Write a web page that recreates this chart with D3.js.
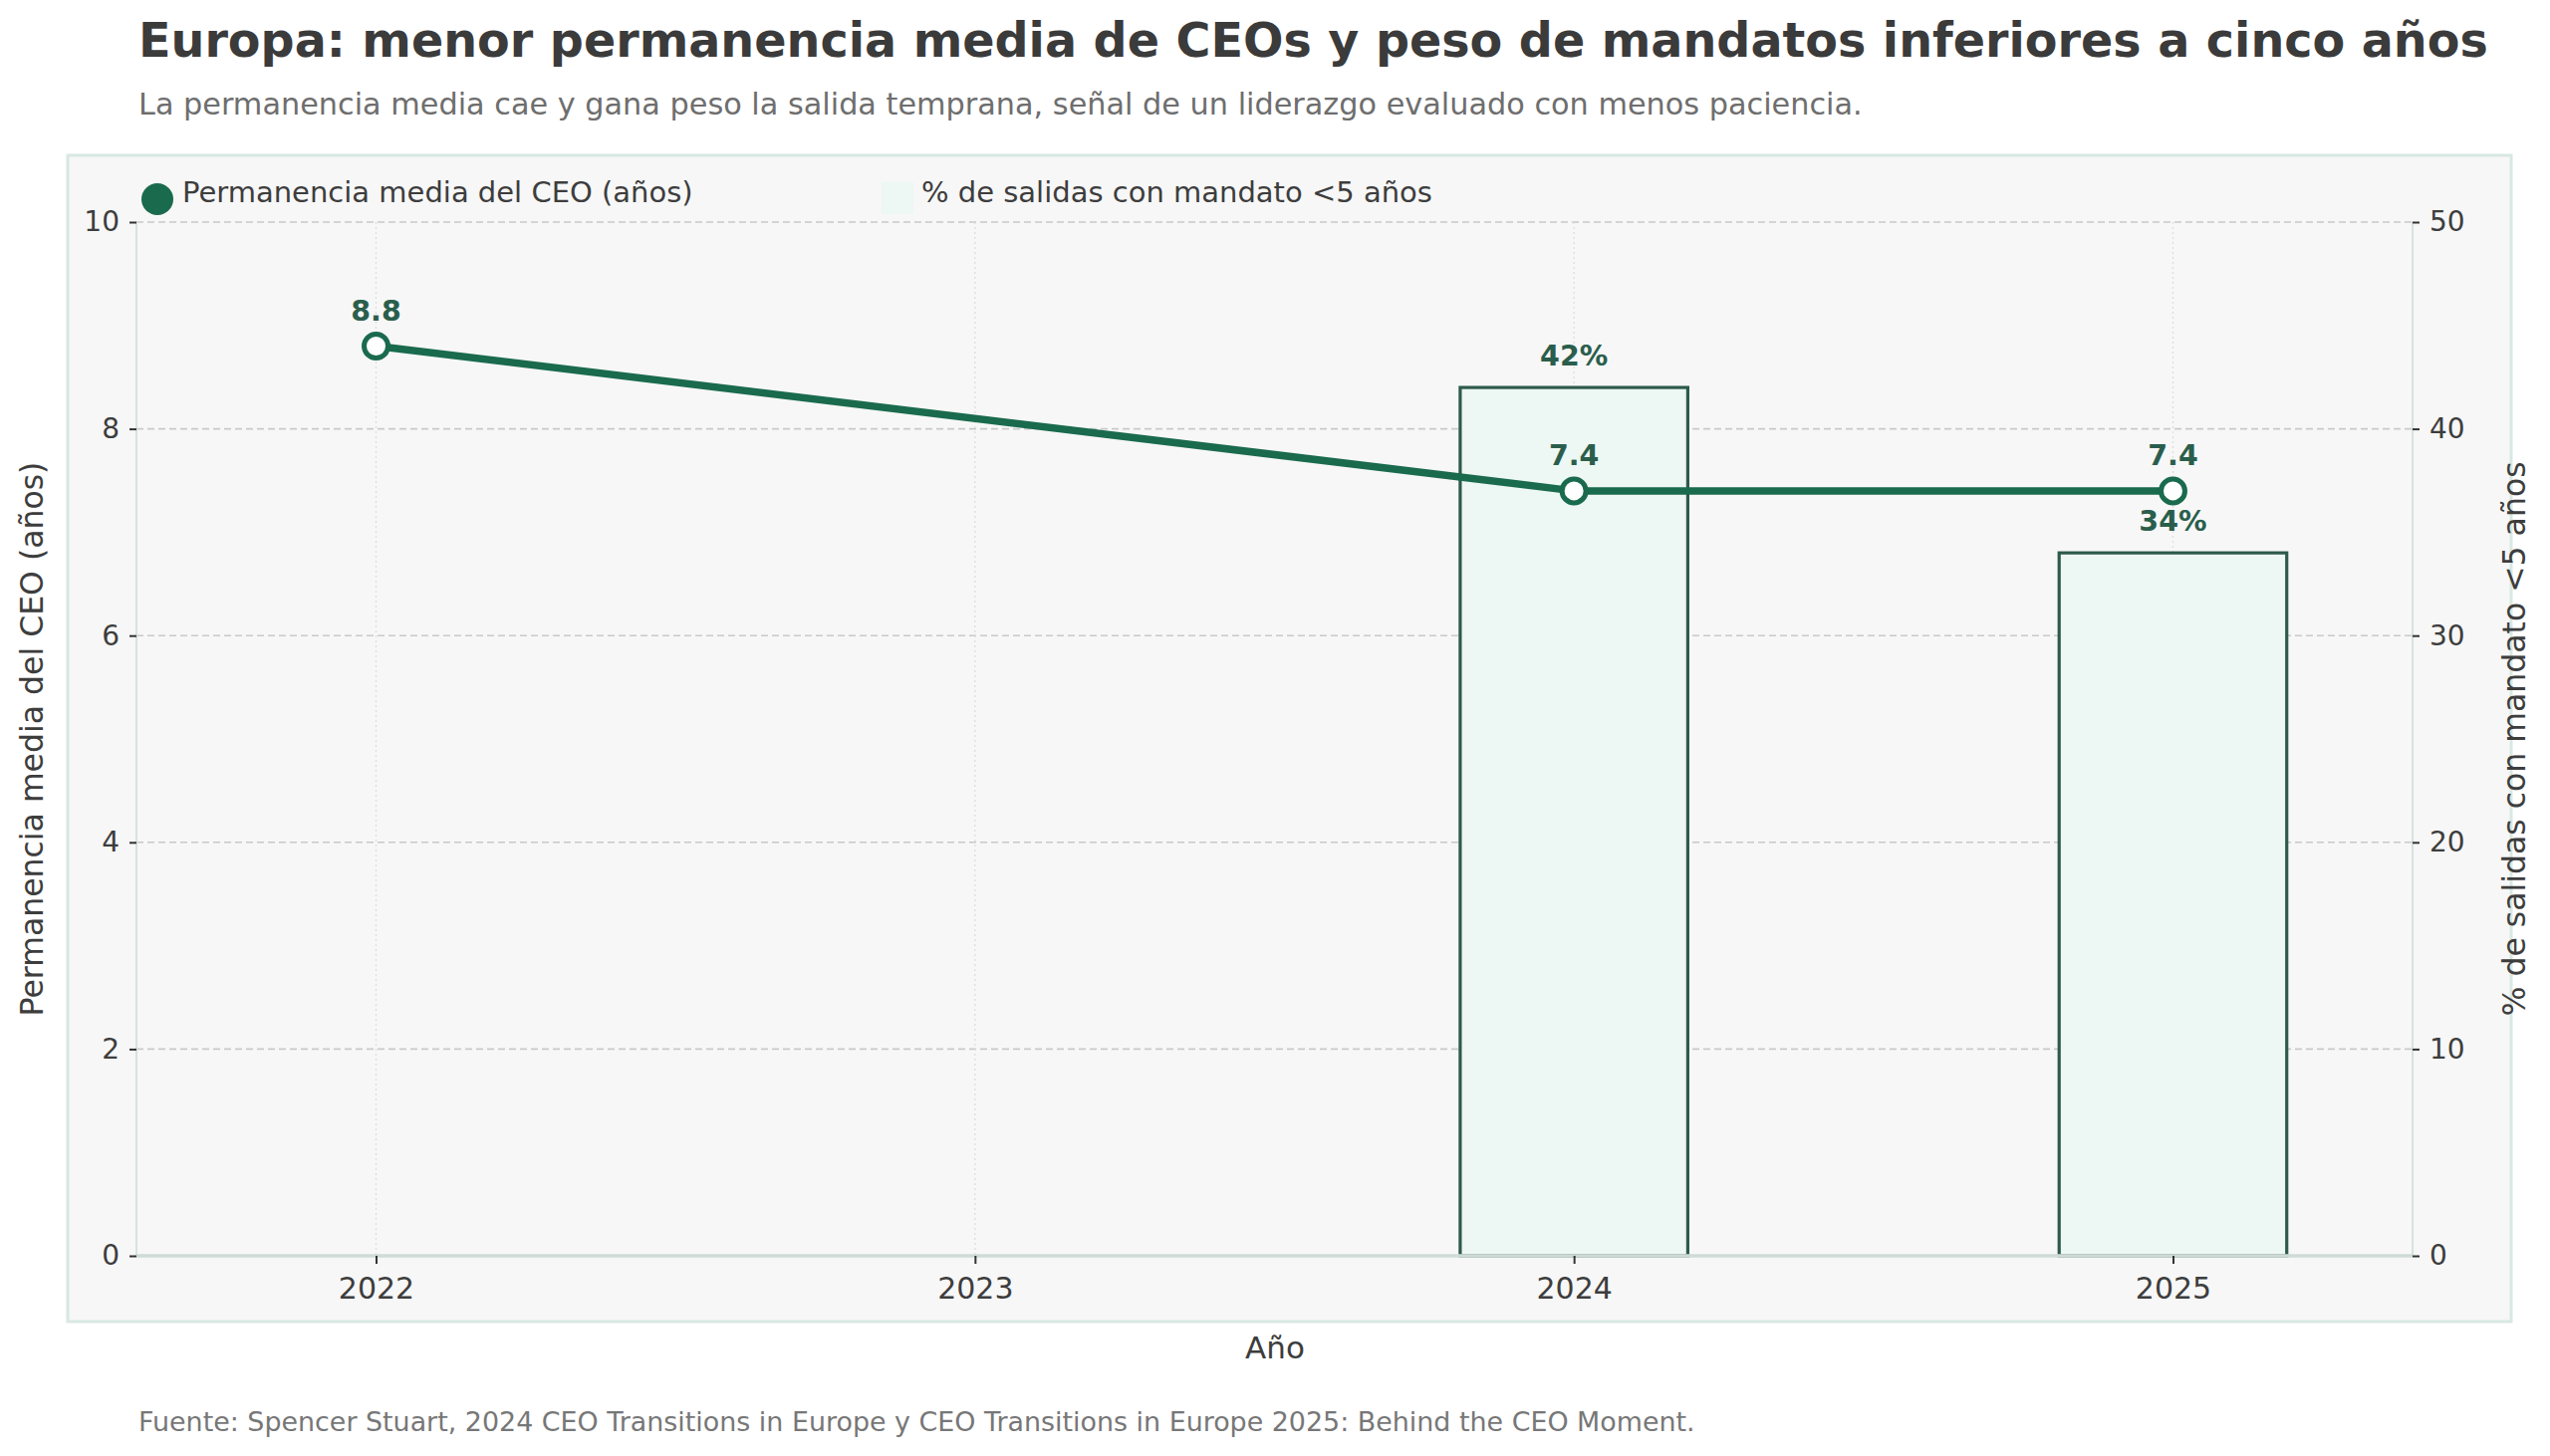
<!DOCTYPE html>
<html>
<head>
<meta charset="utf-8">
<script src="https://cdn.jsdelivr.net/npm/d3@7"></script>
<style>
  html, body { margin: 0; padding: 0; background: #ffffff; }
  svg { display: block; font-family: "DejaVu Sans", sans-serif; }
</style>
</head>
<body>
<svg id="chart" width="2560" height="1462"></svg>
<script>
// ---- data ----
const years = ["2022", "2023", "2024", "2025"];
const tenure = [8.8, null, 7.4, 7.4];          // años
const shortExitPct = [null, null, 42, 34];      // %
const leftTicks = [0, 2, 4, 6, 8, 10];
const rightTicks = [0, 10, 20, 30, 40, 50];

const title = "Europa: menor permanencia media de CEOs y peso de mandatos inferiores a cinco años";
const subtitle = "La permanencia media cae y gana peso la salida temprana, señal de un liderazgo evaluado con menos paciencia.";
const source = "Fuente: Spencer Stuart, 2024 CEO Transitions in Europe y CEO Transitions in Europe 2025: Behind the CEO Moment.";
const legendLine = "Permanencia media del CEO (años)";
const legendBar = "% de salidas con mandato <5 años";
const yLeftTitle = "Permanencia media del CEO (años)";
const yRightTitle = "% de salidas con mandato <5 años";
const xTitle = "Año";

// ---- layout ----
const svg = d3.select("#chart");
const plot = { left: 137, right: 2422, top: 223, bottom: 1261 };
const green = "#1a6a4e", labelGreen = "#2a5e4c", barStroke = "#2e5a4b", barFill = "#edf7f3";
const textDark = "#3d3d3d";

const x = d3.scaleLinear().domain([-0.4, years.length - 1 + 0.4]).range([plot.left, plot.right]);
const yL = d3.scaleLinear().domain([0, 10]).range([plot.bottom, plot.top]);
const yR = d3.scaleLinear().domain([0, 50]).range([plot.bottom, plot.top]);

// titles
svg.append("text").attr("x", 139).attr("y", 57).attr("font-size", 47.6).attr("font-weight", "bold")
  .attr("fill", "#3b3b3b").text(title);
svg.append("text").attr("x", 139).attr("y", 115).attr("font-size", 30.3).attr("fill", "#6e6e6e").text(subtitle);

// panel
svg.append("rect").attr("x", 68).attr("y", 156).attr("width", 2453).attr("height", 1171)
  .attr("fill", "#f7f7f7").attr("stroke", "#d8e8e2").attr("stroke-width", 3);

// grids
const g = svg.append("g");
g.selectAll("line.hgrid").data(leftTicks).join("line").attr("class", "hgrid")
  .attr("x1", plot.left).attr("x2", plot.right).attr("y1", d => yL(d)).attr("y2", d => yL(d))
  .attr("stroke", "#c9c9c9").attr("stroke-width", 1.6).attr("stroke-dasharray", "7,4");
g.selectAll("line.vgrid").data(years.map((d, i) => i)).join("line").attr("class", "vgrid")
  .attr("x1", d => x(d)).attr("x2", d => x(d)).attr("y1", plot.top).attr("y2", plot.bottom)
  .attr("stroke", "#dcdcdc").attr("stroke-width", 1.2).attr("stroke-dasharray", "2,3");

// bars
const barW = 0.38;
const barData = shortExitPct.map((v, i) => ({ i, v })).filter(d => d.v != null);
g.selectAll("rect.bar").data(barData).join("rect").attr("class", "bar")
  .attr("x", d => x(d.i - barW / 2)).attr("width", d => x(barW) - x(0))
  .attr("y", d => yR(d.v)).attr("height", d => yR(0) - yR(d.v))
  .attr("fill", barFill).attr("stroke", barStroke).attr("stroke-width", 3.2);

// spines
g.append("line").attr("x1", plot.left).attr("x2", plot.left).attr("y1", plot.top).attr("y2", plot.bottom)
  .attr("stroke", "#d6e4de").attr("stroke-width", 2);
g.append("line").attr("x1", plot.right).attr("x2", plot.right).attr("y1", plot.top).attr("y2", plot.bottom)
  .attr("stroke", "#d6e4de").attr("stroke-width", 2);
g.append("line").attr("x1", plot.left).attr("x2", plot.right).attr("y1", plot.bottom).attr("y2", plot.bottom)
  .attr("stroke", "#cfdbd6").attr("stroke-width", 3.5);

// line
const lineData = tenure.map((v, i) => ({ i, v })).filter(d => d.v != null);
g.append("path").datum(lineData)
  .attr("d", d3.line().x(d => x(d.i)).y(d => yL(d.v)))
  .attr("fill", "none").attr("stroke", green).attr("stroke-width", 7.5).attr("stroke-linejoin", "round");
g.selectAll("circle.pt").data(lineData).join("circle").attr("class", "pt")
  .attr("cx", d => x(d.i)).attr("cy", d => yL(d.v)).attr("r", 12)
  .attr("fill", "#ffffff").attr("stroke", green).attr("stroke-width", 5);

// value labels
g.selectAll("text.lv").data(lineData).join("text").attr("class", "lv")
  .attr("x", d => x(d.i)).attr("y", d => yL(d.v) - 26).attr("text-anchor", "middle")
  .attr("font-size", 28.5).attr("font-weight", "bold").attr("fill", labelGreen)
  .text(d => d3.format(".1f")(d.v));
g.selectAll("text.bv").data(barData).join("text").attr("class", "bv")
  .attr("x", d => x(d.i)).attr("y", d => yR(d.v) - 22).attr("text-anchor", "middle")
  .attr("font-size", 28.5).attr("font-weight", "bold").attr("fill", labelGreen)
  .text(d => d.v + "%");

// axes
const axL = svg.append("g").attr("transform", `translate(${plot.left},0)`)
  .call(d3.axisLeft(yL).tickValues(leftTicks).tickFormat(d3.format("d")).tickSize(7).tickPadding(10));
const axR = svg.append("g").attr("transform", `translate(${plot.right},0)`)
  .call(d3.axisRight(yR).tickValues(rightTicks).tickFormat(d3.format("d")).tickSize(7).tickPadding(10));
const axB = svg.append("g").attr("transform", `translate(0,${plot.bottom})`)
  .call(d3.axisBottom(x).tickValues(years.map((d, i) => i)).tickFormat(i => years[i]).tickSize(8).tickPadding(14));
[axL, axR, axB].forEach(a => {
  a.select(".domain").remove();
  a.selectAll(".tick line").attr("stroke", "#333").attr("stroke-width", 2);
  a.selectAll(".tick text").attr("fill", textDark).attr("font-family", "DejaVu Sans, sans-serif");
});
axL.selectAll(".tick text").attr("font-size", 28);
axR.selectAll(".tick text").attr("font-size", 28);
axB.selectAll(".tick text").attr("font-size", 30);

// axis titles
svg.append("text").attr("transform", "translate(43,742) rotate(-90)").attr("text-anchor", "middle")
  .attr("font-size", 31.5).attr("fill", textDark).text(yLeftTitle);
svg.append("text").attr("transform", "translate(2535,742) rotate(-90)").attr("text-anchor", "middle")
  .attr("font-size", 31.5).attr("fill", textDark).text(yRightTitle);
svg.append("text").attr("x", 1280).attr("y", 1364).attr("text-anchor", "middle")
  .attr("font-size", 31).attr("fill", textDark).text(xTitle);

// legend
svg.append("circle").attr("cx", 158).attr("cy", 200).attr("r", 16).attr("fill", green);
svg.append("text").attr("x", 183).attr("y", 203).attr("font-size", 29).attr("fill", textDark).text(legendLine);
svg.append("rect").attr("x", 885).attr("y", 183).attr("width", 32).attr("height", 32).attr("fill", barFill);
svg.append("text").attr("x", 925).attr("y", 203).attr("font-size", 29).attr("fill", textDark).text(legendBar);

// source
svg.append("text").attr("x", 139).attr("y", 1437).attr("font-size", 26.9).attr("fill", "#777777").text(source);
</script>
</body>
</html>
